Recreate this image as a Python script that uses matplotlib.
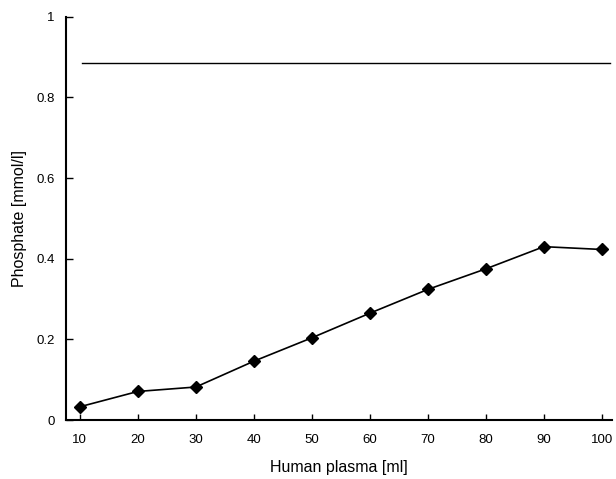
import matplotlib.pyplot as plt

# Data
plasma_ml = [10, 20, 30, 40, 50, 60, 70, 80, 90, 100]
phosphate = [0.033, 0.071, 0.082, 0.146, 0.204, 0.265, 0.324, 0.375, 0.430, 0.423]
reference_level = 0.886
reference_span = [10.3, 101.4]

plt.rcParams['font.family'] = ['Liberation Sans', 'DejaVu Sans']

fig = plt.figure(figsize=(6.16, 4.79), dpi=100)
ax = fig.add_axes([0.107, 0.123, 0.887, 0.842])

# Horizontal reference line
ax.plot(reference_span, [reference_level, reference_level], color='black', lw=1.0)

# Measured series
ax.plot(plasma_ml, phosphate, color='black', lw=1.2, marker='D', markersize=6)

ax.set_xlim(7.6, 101.8)
ax.set_ylim(0, 1)
ax.set_xticks(plasma_ml)
ax.set_yticks([0, 0.2, 0.4, 0.6, 0.8, 1])
ax.set_yticklabels(['0', '0.2', '0.4', '0.6', '0.8', '1'])

for side in ['top', 'right']:
    ax.spines[side].set_visible(False)
for side in ['left', 'bottom']:
    ax.spines[side].set_linewidth(1.5)

ax.tick_params(axis='both', direction='in', length=5, width=1, labelsize=9.5, pad=8)
ax.tick_params(axis='x', length=4, pad=10)

ax.set_xlabel('Human plasma [ml]', fontsize=11.5, labelpad=10)
ax.set_ylabel('Phosphate [mmol/l]', fontsize=11.5, labelpad=7)

fig.savefig('out.png', dpi=100)
